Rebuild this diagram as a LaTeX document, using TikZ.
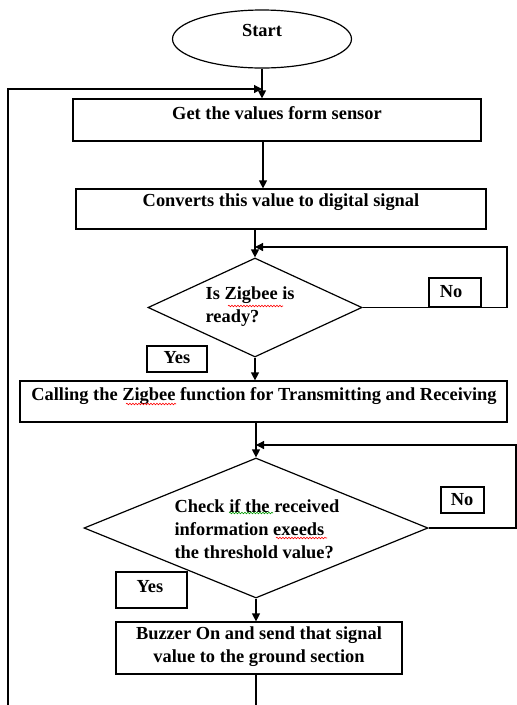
\documentclass[tikz,border=0pt]{standalone}
\usepackage{fontspec}
\setmainfont{Liberation Serif}
\usetikzlibrary{arrows.meta,shapes.geometric,decorations.pathmorphing}
\begin{document}
\begin{tikzpicture}[x=1pt,y=-1pt,line width=1.2pt,
  txt/.style={font=\bfseries\fontsize{18.4}{23}\selectfont,inner sep=0pt},
  procbox/.style={draw,inner sep=0pt},
  decbox/.style={draw,diamond,inner sep=0pt},
  lblbox/.style={draw,inner sep=0pt},
  arr/.style={-{Triangle[length=8pt,width=8pt]}},
  wavy/.style={decorate,decoration={snake,amplitude=0.8pt,segment length=3pt},line width=0.6pt}]
\useasboundingbox (0,0) rectangle (517,705);
% start
\node[draw,ellipse,minimum width=179pt,minimum height=58pt,inner sep=0pt] (start) at (262,39) {};
\node[txt] (tstart) at (262,30) {Start};
% box 1
\node[procbox,minimum width=408pt,minimum height=42pt] (b1) at (277,120) {};
\node[txt] (t1) at (277,113) {Get the values form sensor};
% box 2
\node[procbox,minimum width=410pt,minimum height=40pt] (b2) at (281,209) {};
\node[txt] (t2) at (281,202) {Converts this value to digital signal};
% diamond 1
\node[decbox,minimum width=214pt,minimum height=99pt] (d1) at (255,307.5) {};
\node[txt,align=left,anchor=west] (td1) at (205,306.5) {Is Zigbee is\\ready?};
% box 3
\node[procbox,minimum width=487pt,minimum height=41pt] (b3) at (263.5,401.5) {};
\node[txt] (t3) at (264,396) {Calling the Zigbee function for Transmitting and Receiving};
% diamond 2
\node[decbox,minimum width=344pt,minimum height=140pt] (d2) at (256,528) {};
\node[txt,align=left,anchor=west] (td2) at (174,529) {Check if the received\\information exeeds\\the threshold value?};
% box 4
\node[procbox,minimum width=286pt,minimum height=52pt] (b4) at (259,648) {};
\node[txt,align=center] (t4) at (259,647) {Buzzer On and send that signal\\value to the ground section};
% labels
\node[lblbox,minimum width=52pt,minimum height=29pt] (no1) at (455,292.5) {};
\node[txt] (tno1) at (451,292) {No};
\node[lblbox,minimum width=60pt,minimum height=26pt] (yes1) at (177,359) {};
\node[txt] (tyes1) at (177,358) {Yes};
\node[lblbox,minimum width=43pt,minimum height=26pt] (no2) at (462.5,500) {};
\node[txt] (tno2) at (462,500) {No};
\node[lblbox,minimum width=71pt,minimum height=36pt] (yes2) at (151.5,590) {};
\node[txt] (tyes2) at (150,587) {Yes};
% spell-check underlines
\draw[wavy,red] (228,306) -- (283,306);
\draw[wavy,red] (126,404) -- (176,404);
\draw[wavy,green!60!black] (229,513) -- (273,513);
\draw[wavy,red] (276,538) -- (327,538);
% coordinates
\coordinate (j1) at (262,89);
\coordinate (l1) at (8,89);
\coordinate (l2) at (8,705);
\coordinate (bot) at (258,705);
\coordinate (r1a) at (507,307.5);
\coordinate (r1b) at (507,247);
\coordinate (j2) at (258,247);
\coordinate (r2a) at (516,528);
\coordinate (r2b) at (516,445);
\coordinate (j3) at (258,445);
% connectors
\draw[arr] (start.south) -- (start.south |- b1.north);
\draw[arr] (l2) -- (l1) -- (j1);
\draw[arr] (b1.south -| 263,0) -- (263,0 |- b2.north);
\draw[arr] (b2.south -| d1.north) -- (d1.north);
\draw[arr] (d1.east) -- (r1a) -- (r1b) -- (j2 -| d1.north);
\draw[arr] (d1.south) -- (d1.south |- b3.north);
\draw[arr] (b3.south -| d2.north) -- (d2.north);
\draw[arr] (d2.east) -- (r2a) -- (r2b) -- (j3 -| d2.north);
\draw[arr] (d2.south) -- (d2.south |- b4.north);
\draw (b4.south -| d2.south) -- (bot -| d2.south);
\end{tikzpicture}
\end{document}
